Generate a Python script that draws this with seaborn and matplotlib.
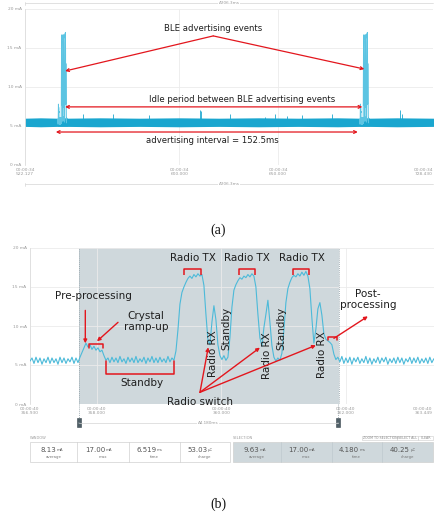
import numpy as np
import pandas as pd
import matplotlib
matplotlib.use("Agg")
import matplotlib.pyplot as plt
import matplotlib.transforms as mtransforms
import seaborn as sns

W, H = 435, 518

# ---------------- shared axis labels ----------------
y_ticks = [0, 5, 10, 15, 20]
y_ticklabels = ["0 mA", "5 mA", "10 mA", "15 mA", "20 mA"]

# ---------------- panel (a): 206.3 ms window ----------------
a_xlim = (522.127, 728.43)
a_ticks = [522.127, 600.0, 650.0, 728.43]
a_ticklabels = ["00:00:34\n522.127", "00:00:34\n600.000",
                "00:00:34\n650.000", "00:00:34\n728.430"]
adv_interval = 152.5          # ms between advertising events
adv_first = 538.9             # start of first advertising event (ms)

# idle current envelope (ms, mA)
idle_t = [522.1, 530.0, 538.6, 542.9, 560.0, 580.0, 600.0, 620.0, 640.0,
          660.0, 680.0, 691.4, 695.5, 710.0, 728.43]
idle_lo = [4.95, 4.9, 4.95, 4.95, 4.9, 4.95, 4.9, 4.95, 4.9,
           4.95, 4.9, 4.95, 4.95, 4.9, 4.95]
idle_hi = [6.0, 6.05, 6.0, 6.0, 6.05, 6.0, 6.05, 6.0, 6.05,
           6.0, 6.05, 6.0, 6.0, 6.05, 6.0]
# short current spikes on the idle floor
spike_t = [551.3, 566.8, 584.8, 610.6, 611.2, 625.8, 643.5, 648.5, 654.4,
           662.0, 677.2, 711.7, 712.6]
spike_ma = [6.6, 6.6, 6.4, 7.1, 6.9, 6.6, 6.2, 6.6, 6.3, 6.4, 6.5, 7.0, 6.6]

# ---------------- panel (b): one advertising event, 6.519 ms ----------------
b_t0 = 356.93
b_dt = 0.0321
b_xlim = (356.93, 363.449)
b_ticks = [356.93, 358.0, 360.0, 362.0, 363.449]
b_ticklabels = ["00:00:40\n356.930", "00:00:40\n358.000", "00:00:40\n360.000",
                "00:00:40\n362.000", "00:00:40\n363.449"]
sel_start = 357.716
sel_len = 4.180

b_ma = [
    # idle
    5.5, 5.9, 5.2, 6.0, 5.3, 5.9, 5.1, 5.8, 5.3, 6.0, 5.2, 5.9, 5.3, 5.8, 5.1,
    6.0, 5.3, 5.9, 5.2, 5.8, 5.4, 6.0, 5.2, 5.9, 5.3,
    # pre-processing / crystal ramp-up
    6.0, 6.6, 7.2, 7.8, 7.3, 7.6, 7.0, 7.4, 6.9, 7.2, 6.7, 6.9, 6.2, 5.6,
    # standby
    5.9, 5.3, 6.0, 5.4, 5.9, 5.3, 6.1, 5.4, 5.8, 5.2, 6.0, 5.4, 5.9, 5.3, 6.1,
    5.3, 5.8, 5.4, 6.0, 5.2, 5.9, 5.4, 6.1, 5.3, 5.9, 5.3, 6.0, 5.4, 5.8, 5.3,
    6.1, 5.4, 5.9,
    # TX 1, RX 1, standby
    5.6, 6.8, 9.5, 12.8, 14.3, 15.0, 15.6, 16.1, 16.4, 16.1, 16.6, 16.3, 16.7,
    16.4, 16.6, 15.2, 11.5, 8.2, 7.6, 10.5, 12.6, 10.8, 7.6, 6.2, 5.7, 6.2,
    5.6, 6.0,
    # TX 2, RX 2, standby
    8.5, 12.4, 14.6, 15.3, 15.8, 16.2, 16.0, 16.4, 16.2, 16.6, 16.3, 16.7,
    16.4, 15.0, 11.5, 8.5, 7.4, 9.8, 11.5, 13.3, 10.5, 7.5, 6.0, 5.5, 5.9, 5.6,
    # TX 3, RX 3, post-processing
    6.5, 9.5, 13.0, 14.8, 15.6, 16.2, 16.5, 16.3, 16.7, 16.4, 16.9, 16.5, 17.0,
    16.4, 14.8, 11.0, 7.8, 9.6, 12.2, 13.0, 11.4, 9.0, 8.3, 8.1, 7.9, 7.6, 6.4,
    5.7, 6.0,
    # idle
    5.4, 6.1, 5.2, 5.9, 5.3, 6.0, 5.1, 5.9, 5.4, 6.0, 5.2, 5.8, 5.3, 6.1, 5.2,
    5.9, 5.1, 5.8, 5.3, 6.0, 5.2, 5.9, 5.4, 6.0, 5.1, 5.8, 5.3, 5.9, 5.2, 6.0,
    5.3, 5.9, 5.1, 5.8, 5.4, 6.0, 5.2, 5.9, 5.3, 6.0, 5.2, 5.8, 5.3, 5.9, 5.2,
    6.0, 5.3, 5.8, 5.4,
]

# summary tables
window_vals = [("8.13", "mA", "average"), ("17.00", "mA", "max"),
               ("6.519", "ms", "time"), ("53.03", "µC", "charge")]
sel_vals = [("9.63", "mA", "average"), ("17.00", "mA", "max"),
            ("4.180", "ms", "time"), ("40.25", "µC", "charge")]

# ---------------- figure ----------------
sns.set_theme(style="white")
plt.rcParams["font.family"] = ["DejaVu Sans"]

RED = "#e3161d"
TXT = "#1e1e1e"
TRACE_A = "#1aa6cf"
TRACE_B = "#4cbad9"
SEL = "#cfd8dc"
GRID = "#ebebeb"
TICK = "#9b9b9b"

fig = plt.figure(figsize=(W / 100, H / 100), dpi=100)


def px_axes(l, t, r, b):
    return fig.add_axes([l / W, 1 - b / H, (r - l) / W, (b - t) / H])


ov = px_axes(0, 0, W, H)
ov.set_xlim(0, W)
ov.set_ylim(H, 0)
ov.axis("off")
ov.patch.set_alpha(0)


def style(ax, xlim, xticks, xlabels, last_shift):
    ax.set_xlim(*xlim)
    ax.set_ylim(0, 20)
    ax.set_yticks(y_ticks)
    ax.set_yticklabels(y_ticklabels)
    ax.set_xticks(xticks)
    ax.set_xticklabels(xlabels, linespacing=1.1)
    ax.tick_params(axis="both", labelsize=3.2, colors=TICK, length=0)
    ax.tick_params(axis="x", pad=2.2)
    ax.tick_params(axis="y", pad=2.5)
    ax.set_axisbelow("line")
    ax.grid(True, color=GRID, lw=0.6)
    for s in ["top", "right", "bottom"]:
        ax.spines[s].set_visible(False)
    ax.spines["left"].set_color("#dedede")
    ax.spines["left"].set_linewidth(0.6)
    ax.set_xlabel("")
    ax.set_ylabel("")
    # keep the right-most time label inside the window
    last = ax.get_xticklabels()[-1]
    last.set_ha("right")
    last.set_transform(last.get_transform() + mtransforms.ScaledTranslation(
        -last_shift / 100, 0, fig.dpi_scale_trans))


# ---------- panel (a) ----------
ax_a = px_axes(25, 9, 433.5, 165)
ax_a.fill_between(idle_t, idle_lo, idle_hi, color=TRACE_A, lw=0, zorder=2)
ax_a.vlines(spike_t, 5.9, spike_ma, color=TRACE_A, lw=0.6, zorder=2)

b_t = b_t0 + b_dt * np.arange(len(b_ma))
b_df = pd.DataFrame({"t": b_t, "mA": b_ma})
burst = b_df[(b_df.t >= sel_start - 0.1) & (b_df.t <= sel_start + sel_len + 0.05)]
events = []
for k in range(2):
    start = adv_first + k * adv_interval
    events.append(pd.DataFrame({"t": start + (burst.t - sel_start),
                                "mA": burst.mA.values, "ev": k}))
ev_df = pd.concat(events, ignore_index=True)
for k, g in ev_df.groupby("ev"):
    sns.lineplot(data=g, x="t", y="mA", ax=ax_a, color="#5cc4e2", lw=0.7,
                 estimator=None, sort=False, zorder=3)
# idle floor under the events
for k in range(2):
    s = adv_first + k * adv_interval
    ax_a.fill_between([s - 0.3, s + sel_len + 0.6], 4.9, 6.0, color=TRACE_A,
                      lw=0, alpha=0.5, zorder=2)
style(ax_a, a_xlim, a_ticks, a_ticklabels, 0.5)

fa = dict(ha="center", va="center", fontsize=6.1, color=TXT)
ax_a.text(617.2, 17.55, "BLE advertising events", **fa)
ax_a.text(631.8, 8.45, "Idle period between BLE advertising events", **fa)
ax_a.text(616.7, 3.2, f"advertising interval = {adv_interval}ms", **fa)
arr_a = dict(arrowstyle="->", color=RED, lw=0.9, mutation_scale=5,
             shrinkA=0, shrinkB=0)
ax_a.annotate("", xy=(542.4, 12.05), xytext=(617.2, 16.55), arrowprops=arr_a)
ax_a.annotate("", xy=(693.5, 12.3), xytext=(617.2, 16.55), arrowprops=arr_a)
arr_a2 = dict(arr_a, arrowstyle="<->")
ax_a.annotate("", xy=(542.4, 7.45), xytext=(692.5, 7.45), arrowprops=arr_a2)
ax_a.annotate("", xy=(adv_first - 1.2, 4.23),
              xytext=(adv_first - 1.2 + adv_interval, 4.23), arrowprops=arr_a2)

# ---------- panel (b) ----------
ax_b = px_axes(30, 248, 436, 404)
ax_b.axvspan(sel_start, sel_start + sel_len, color=SEL, lw=0, zorder=1)
for xv in (sel_start, sel_start + sel_len):
    ax_b.axvline(xv, color="#8c9ba3", lw=0.5, ls=(0, (1.5, 1.5)), zorder=1.6)
sns.lineplot(data=b_df, x="t", y="mA", ax=ax_b, color=TRACE_B, lw=0.8,
             estimator=None, sort=False, zorder=3)
style(ax_b, b_xlim, b_ticks, b_ticklabels, 3.5)

fb = dict(ha="center", va="center", fontsize=7.5, color=TXT)
for xc in (359.546, 360.413, 361.296):
    ax_b.text(xc, 18.68, "Radio TX", **fb)
for x0, x1 in ((359.402, 359.675), (360.285, 360.542), (361.152, 361.408)):
    ax_b.plot([x0, x0, x1, x1], [16.5, 17.27, 17.27, 16.5], color=RED, lw=1.1,
              solid_capstyle="butt", zorder=4)
ax_b.text(357.941, 13.81, "Pre-processing", **fb)
arr_b = dict(arrowstyle="-|>", color=RED, lw=1.0, mutation_scale=5,
             shrinkA=0, shrinkB=0)
ax_b.annotate("", xy=(357.818, 7.78), xytext=(357.818, 12.0), arrowprops=arr_b)
ax_b.plot([357.877, 357.877, 358.102, 358.102], [7.14, 7.74, 7.74, 7.14],
          color=RED, lw=1.1, zorder=4)
ax_b.text(358.792, 10.6, "Crystal\nramp-up", linespacing=1.05, **fb)
ax_b.annotate("", xy=(358.005, 8.04), xytext=(358.343, 10.47), arrowprops=arr_b)
ax_b.plot([358.150, 358.150, 359.241, 359.241], [5.47, 3.81, 3.81, 5.47],
          color=RED, lw=1.1, zorder=4)
ax_b.text(358.728, 2.65, "Standby", **fb)
for xc, yc, s in ((359.872, 6.44, "Radio RX"), (360.076, 9.71, "Standby"),
                  (360.729, 6.24, "Radio RX"), (360.959, 9.71, "Standby"),
                  (361.612, 6.37, "Radio RX")):
    ax_b.text(xc, yc, s, rotation=90, **fb)
ax_b.text(359.659, 0.22, "Radio switch", clip_on=False, **fb)
for xe, ye in ((359.792, 7.27), (360.622, 7.23), (361.521, 7.53)):
    ax_b.annotate("", xy=(xe, ye), xytext=(359.659, 1.5), arrowprops=arr_b)
ax_b.text(362.355, 13.42, "Post-\nprocessing", linespacing=1.05, **fb)
ax_b.annotate("", xy=(362.355, 11.24), xytext=(361.81, 8.42), arrowprops=arr_b)
ax_b.plot([361.713, 361.713, 361.858, 361.858], [8.17, 8.59, 8.59, 8.17],
          color=RED, lw=1.1, zorder=4)

# ---------- window furniture (pixel coordinates) ----------
small = dict(fontsize=3.0, color=TICK)
for y0 in (3, 184):
    ov.plot([25, 433], [y0, y0], color="#d5d5d5", lw=0.5)
    ov.plot([25, 25], [y0 - 1.5, y0 + 1.5], color="#d5d5d5", lw=0.5)
    ov.text(229, y0, "Δ206.3ms", ha="center", va="center",
            bbox=dict(fc="white", ec="none", pad=0.6), **small)
# selection handles in (b)
ov.plot([79, 338], [422.5, 422.5], color="#d5d5d5", lw=0.5)
ov.text(208, 422.5, "Δ4.180ms", ha="center", va="center",
        bbox=dict(fc="white", ec="none", pad=0.6), **small)
for xh in (79, 338):
    ov.plot([xh, xh], [404, 418], color="#8c9ba3", lw=0.5, ls=(0, (1.5, 1.5)))
    ov.add_patch(plt.Rectangle((xh - 1.6, 418), 3.2, 8.5, fc="#4f5f67",
                               ec="#39474e", lw=0.4))
    ov.plot([xh - 0.8, xh + 0.8], [422.5, 422.5], color="#c0c8cc", lw=0.3)

# summary tables
ov.text(30, 437.7, "WINDOW", ha="left", va="center", fontsize=2.6, color=TICK)
ov.text(233, 437.7, "SELECTION", ha="left", va="center", fontsize=2.6,
        color=TICK)
btn_x = [362.5, 397.5, 418.5, 433]
for x0, x1, lab in zip(btn_x[:-1], btn_x[1:],
                       ["ZOOM TO SELECTION", "SELECT ALL", "CLEAR"]):
    ov.add_patch(plt.Rectangle((x0, 435.5), x1 - x0, 4.5, fc="white",
                               ec="#cccccc", lw=0.4))
    ov.text((x0 + x1) / 2, 437.8, lab, ha="center", va="center",
            fontsize=2.3, color="#888888")


def table(x_edges, vals, fill):
    ov.add_patch(plt.Rectangle((x_edges[0], 442.3), x_edges[-1] - x_edges[0],
                               19.4, fc=fill, ec="#d0d0d0", lw=0.5))
    for xe in x_edges[1:-1]:
        ov.plot([xe, xe], [442.3, 461.7], color="#d0d0d0" if fill == "white"
                else "#bfc9ce", lw=0.5)
    for (v, u, lab), x0, x1 in zip(vals, x_edges[:-1], x_edges[1:]):
        xc = (x0 + x1) / 2
        ov.text(xc + 2.5, 449.6, v, ha="right", va="center",
                fontsize=5.0, color="#555555")
        ov.text(xc + 2.7, 450.3, u, ha="left", va="center", fontsize=2.8,
                color="#666666")
        ov.text(xc, 456.8, lab, ha="center", va="center", fontsize=2.8,
                color="#777777")


table([30, 77.3, 129, 179.7, 230], window_vals, "white")
table([233.3, 281, 331.7, 381.7, 433.3], sel_vals, SEL)

# captions
cap = dict(ha="center", va="center", fontsize=10, color="#111111",
           family="Liberation Serif")
ov.text(218, 230, "(a)", **cap)
ov.text(218, 504, "(b)", **cap)

fig.savefig("out.png", dpi=100)
